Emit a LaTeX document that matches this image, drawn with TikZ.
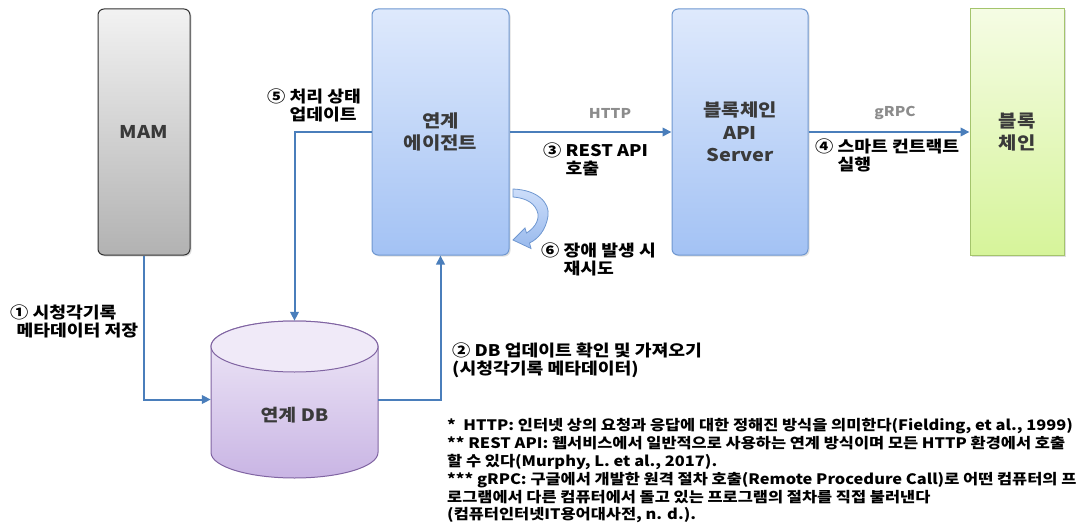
\documentclass[tikz,border=0pt]{standalone}
\usepackage{fontspec}
\setmainfont{Noto Sans CJK KR}[FakeStretch=1.14]
\usetikzlibrary{arrows.meta,shadows,calc}

\definecolor{arrowblue}{HTML}{4A7EBB}
\definecolor{boxblueT}{HTML}{DEE9FC}
\definecolor{boxblueB}{HTML}{A3C2F4}
\definecolor{boxblueL}{HTML}{6F97D0}
\definecolor{greyT}{HTML}{F2F2F2}
\definecolor{greyB}{HTML}{B2B2B2}
\definecolor{greenT}{HTML}{F5FCE4}
\definecolor{greenB}{HTML}{D6F49A}
\definecolor{greenL}{HTML}{A4C46C}
\definecolor{dbT}{HTML}{F0EAF8}
\definecolor{dbB}{HTML}{C9B5E4}
\definecolor{dbL}{HTML}{8064A2}
\definecolor{boxtext}{HTML}{3A3A3A}
\definecolor{prototext}{HTML}{8C8C8C}

\tikzset{
  sysbox/.style={rounded corners=6pt, line width=1pt, align=center,
    font=\fontsize{17.5}{22.5}\selectfont\bfseries, text=boxtext,
    drop shadow={shadow xshift=1.5pt, shadow yshift=-1.5pt, opacity=0.25}},
  bluebox/.style={sysbox, draw=boxblueL, top color=boxblueT, bottom color=boxblueB},
  flow/.style={draw=arrowblue, line width=2pt,
    -{Triangle[length=9pt,width=8.5pt]}},
  steplabel/.style={font=\fontsize{16}{18}\selectfont\bfseries, align=left,
    anchor=north west, inner sep=0pt},
  protolabel/.style={font=\fontsize{13.5}{16}\selectfont\bfseries, text=prototext},
}

\begin{document}
\begin{tikzpicture}[x=1pt,y=-1pt]
\useasboundingbox (0,0) rectangle (1084,532);

% systems
\node[sysbox, draw=black!80, top color=greyT, bottom color=greyB,
      minimum width=92pt, minimum height=246pt] (mam) at (144,132) {MAM};
\node[bluebox, minimum width=137pt, minimum height=246pt] (agent) at (440.5,132)
      {연계\\에이전트};
\node[bluebox, minimum width=136pt, minimum height=246pt] (api) at (740,132)
      {블록체인\\API\\Server};
\node[sysbox, rounded corners=0pt, draw=greenL, top color=greenT, bottom color=greenB,
      minimum width=94pt, minimum height=246pt] (chain) at (1017,132) {블록\\체인};

% database cylinder
\shade[top color=dbT, bottom color=dbB, draw=dbL, line width=1pt]
  (211,346.5) -- (211,452.5)
  arc[start angle=180, end angle=0, x radius=83.5, y radius=25.5]
  -- (378,346.5)
  arc[start angle=0, end angle=-180, x radius=83.5, y radius=25.5] -- cycle;
\fill[dbT] (294.5,346.5) ellipse[x radius=83.5, y radius=25.5];
\draw[dbL, line width=1pt] (294.5,346.5) ellipse[x radius=83.5, y radius=25.5];
\node[minimum width=167pt, minimum height=157pt, inner sep=0pt] (db) at (294.5,399.5) {};
\node[font=\fontsize{17}{20}\selectfont\bfseries, text=boxtext] (dblabel) at (294.5,415) {연계 DB};

% connectors
\draw[flow] (mam.south) |- (db.west);
\draw[flow] (db.east) -| (agent.south);
\draw[flow] (agent.west) -| (db.north);
\draw[flow] (agent.east) -- (api.west);
\draw[flow] (api.east) -- (chain.west);

% retry loop arrow
\shade[top color=boxblueT!70!boxblueB, bottom color=boxblueB!80!boxblueL,
       draw=boxblueL, line width=0.8pt]
  (513,189) .. controls (538,190) and (550,203) .. (548,216)
  .. controls (546,230) and (538,239) .. (529.5,243)
  -- (531,248.5) -- (513,240) -- (525,228) -- (526.5,233)
  .. controls (533,229) and (539,222) .. (538,214)
  .. controls (536,204) and (527,198) .. (513,197) -- cycle;

% protocol labels
\node[protolabel] (http) at (610,113) {HTTP};
\node[protolabel] (grpc) at (895,113) {gRPC};

% step labels
\node[steplabel] (s1) at (10,305) {① 시청각기록\\\phantom{.}메타데이터 저장};
\node[steplabel] (s2) at (452,342.5) {② DB 업데이트 확인 및 가져오기\\(시청각기록 메타데이터)};
\node[steplabel] (s3) at (543,142.5) {③ REST API\\\phantom{③ }호출};
\node[steplabel] (s4) at (815,138.5) {④ 스마트 컨트랙트\\\phantom{④ }실행};
\node[steplabel] (s5) at (267,89) {⑤ 처리 상태\\\phantom{⑤ }업데이트};
\node[steplabel] (s6) at (541,242.5) {⑥ 장애 발생 시\\\phantom{⑥ }재시도};

% notes
\node[anchor=north west, inner sep=0pt, align=left,
      font=\fontsize{14.4}{17.8}\selectfont\bfseries] (notes) at (447,418.5)
  {*\ \ HTTP: 인터넷 상의 요청과 응답에 대한 정해진 방식을 의미한다(Fielding, et al., 1999)\\
   ** REST API: 웹서비스에서 일반적으로 사용하는 연계 방식이며 모든 HTTP 환경에서 호출\\
   할 수 있다(Murphy, L. et al., 2017).\\
   *** gRPC: 구글에서 개발한 원격 절차 호출(Remote Procedure Call)로 어떤 컴퓨터의 프\\
   로그램에서 다른 컴퓨터에서 돌고 있는 프로그램의 절차를 직접 불러낸다\\
   (컴퓨터인터넷IT용어대사전, n. d.).};
\end{tikzpicture}
\end{document}
